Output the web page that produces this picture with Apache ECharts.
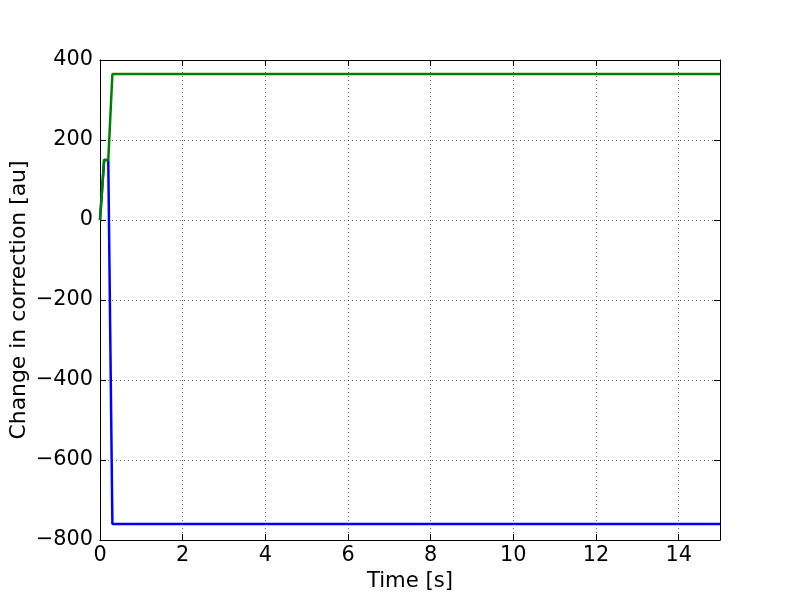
<!DOCTYPE html>
<html>
<head>
<meta charset="utf-8">
<script src="https://cdn.jsdelivr.net/npm/echarts@6/dist/echarts.min.js"></script>
<style>html,body{margin:0;padding:0;background:#fff}#c{width:800px;height:600px}</style>
</head>
<body>
<div id="c"></div>
<script>
var times = [0, 0.1, 0.2, 0.3, 15];
var blueValues = [0, 150, 150, -760, -760];
var greenValues = [0, 150, 150, 365, 365];
var xTicks = [0, 2, 4, 6, 8, 10, 12, 14];
var yTicks = [-800, -600, -400, -200, 0, 200, 400];

function pairs(xs, ys) { return xs.map(function (x, i) { return [x, ys[i]]; }); }
var FONT = 'DejaVu Sans';
var FS = 20.8;
var fmt = function (v) { return String(v).replace('-', '\u2212'); };

var chart = echarts.init(document.getElementById('c'), null, { renderer: 'canvas' });
var axisLineStyle = { show: true, onZero: false, lineStyle: { color: '#000', width: 1 } };
var tickStyle = { show: true, inside: true, length: 6, lineStyle: { color: '#000', width: 1 } };
var gridLine = { show: true, lineStyle: { color: '#000', width: 0.6, type: [1, 3] } };
chart.setOption({
  animation: false,
  backgroundColor: '#fff',
  grid: { left: 100, right: 80, top: 60, bottom: 60, containLabel: false, outerBoundsMode: 'none' },
  xAxis: [{
    type: 'value', min: 0, max: 15, interval: 2, position: 'bottom',
    name: 'Time [s]', nameLocation: 'middle', nameGap: 31, nameMoveOverlap: false,
    nameTextStyle: { fontFamily: FONT, fontSize: 21.2, color: '#000' },
    axisLine: axisLineStyle, axisTick: tickStyle,
    axisLabel: { fontFamily: FONT, fontSize: FS, color: '#000', margin: 5, formatter: fmt, showMaxLabel: false },
    splitLine: gridLine
  }, {
    type: 'value', min: 0, max: 15, interval: 2, position: 'top',
    axisLine: axisLineStyle, axisTick: tickStyle, axisLabel: { show: false }, splitLine: { show: false }
  }],
  yAxis: [{
    type: 'value', min: -800, max: 400, interval: 200, position: 'left',
    name: 'Change in correction [au]', nameLocation: 'middle', nameGap: 70, nameRotate: 90, nameMoveOverlap: false,
    nameTextStyle: { fontFamily: FONT, fontSize: 21.9, color: '#000' },
    axisLine: axisLineStyle, axisTick: tickStyle,
    axisLabel: { fontFamily: FONT, fontSize: FS, color: '#000', margin: 7, formatter: fmt },
    splitLine: gridLine
  }, {
    type: 'value', min: -800, max: 400, interval: 200, position: 'right',
    axisLine: axisLineStyle, axisTick: tickStyle, axisLabel: { show: false }, splitLine: { show: false }
  }],
  series: [{
    type: 'line', xAxisIndex: 0, yAxisIndex: 0, data: pairs(times, blueValues),
    showSymbol: false, symbol: 'none', lineStyle: { color: '#0000ff', width: 2.5 }, z: 3
  }, {
    type: 'line', xAxisIndex: 0, yAxisIndex: 0, data: pairs(times, greenValues),
    showSymbol: false, symbol: 'none', lineStyle: { color: '#008000', width: 2.5 }, z: 4
  }]
});
</script>
</body>
</html>
